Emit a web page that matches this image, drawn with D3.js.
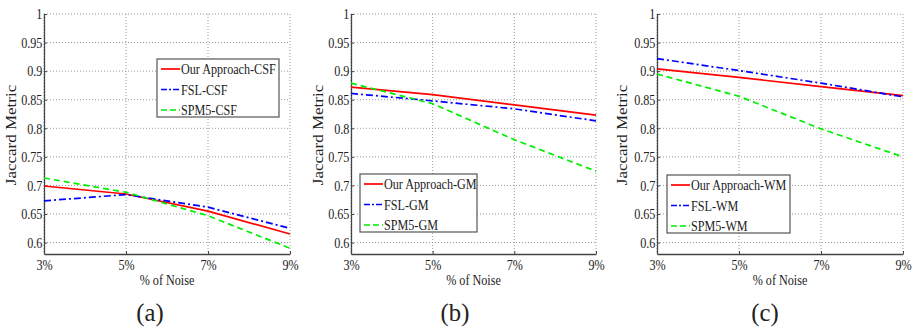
<!DOCTYPE html>
<html>
<head>
<meta charset="utf-8">
<script src="https://cdn.jsdelivr.net/npm/d3@7"></script>
<style>
  body { margin: 0; background: #fff; }
</style>
</head>
<body>
<div class="chart"></div>
<script>
// data
var noise = [3, 5, 7, 9];
var xTicks = ["3%", "5%", "7%", "9%"];
var yTicks = [0.6, 0.65, 0.7, 0.75, 0.8, 0.85, 0.9, 0.95, 1];

var ourCSF = [0.699, 0.685, 0.655, 0.615];
var fslCSF = [0.673, 0.684, 0.662, 0.625];
var spmCSF = [0.713, 0.688, 0.647, 0.590];

var ourGM = [0.872, 0.859, 0.841, 0.823];
var fslGM = [0.861, 0.848, 0.834, 0.813];
var spmGM = [0.879, 0.843, 0.780, 0.725];

var ourWM = [0.904, 0.889, 0.873, 0.857];
var fslWM = [0.922, 0.901, 0.879, 0.855];
var spmWM = [0.895, 0.856, 0.799, 0.750];

var serif = "Liberation Serif";
var squeeze = 0.81; // the source figure is a bit narrowed horizontally

var svg = d3.select(".chart")
  .append("svg")
  .attr("width", 917)
  .attr("height", 327);

var styles = [
  { color: "#ff0000", dash: null },
  { color: "#0000ff", dash: "7,3,2,3" },
  { color: "#00ee00", dash: "6,4" }
];

function label(sel, size) {
  return sel.attr("font-family", serif).attr("font-size", size).attr("fill", "#222");
}

function drawPanel(p) {
  var x = d3.scaleLinear().domain([3, 9]).range([p.left, p.right]);
  var y = d3.scaleLinear().domain([0.58, 1]).range([254, 14]);
  var g = svg.append("g");

  // grid
  g.selectAll(".gy").data(yTicks).enter().append("line")
    .attr("x1", p.left).attr("x2", p.right)
    .attr("y1", d => y(d)).attr("y2", d => y(d))
    .attr("stroke", "#999").attr("stroke-width", 1)
    .attr("stroke-dasharray", "1,2");
  g.selectAll(".gx").data(noise).enter().append("line")
    .attr("x1", d => x(d)).attr("x2", d => x(d))
    .attr("y1", y(1)).attr("y2", y(0.58))
    .attr("stroke", "#999").attr("stroke-width", 1)
    .attr("stroke-dasharray", "1,2");

  // axes
  var leftAxis = d3.axisLeft(y).tickValues(yTicks).tickFormat(d3.format("")).tickSizeInner(-3).tickSizeOuter(0).tickPadding(2);
  var bottomAxis = d3.axisBottom(x).tickValues(noise).tickFormat((d, i) => xTicks[i]).tickSizeInner(-3).tickSizeOuter(0).tickPadding(5);

  var ly = g.append("g").attr("transform", `translate(${p.left},0)`).call(leftAxis);
  var lx = g.append("g").attr("transform", `translate(0,254)`).call(bottomAxis);
  [ly, lx].forEach(function (a) {
    a.attr("font-family", serif).attr("font-size", 15);
    a.select(".domain").attr("stroke", "#444").attr("stroke-width", 1.3);
    a.selectAll(".tick line").attr("stroke", "#444");
    a.selectAll("text").attr("fill", "#222").attr("transform", `scale(${squeeze},1)`);
  });

  // lines
  var line = d3.line().x((d, i) => x(noise[i])).y(d => y(d));
  p.series.forEach(function (s, i) {
    g.append("path")
      .attr("d", line(s))
      .attr("fill", "none")
      .attr("stroke", styles[i].color)
      .attr("stroke-width", 1.7)
      .attr("stroke-dasharray", styles[i].dash);
  });

  // labels
  label(g.append("text"), 17)
    .attr("transform", `translate(${p.ylabX},135) rotate(-90) scale(1,${squeeze})`)
    .attr("text-anchor", "middle")
    .attr("dy", "0.35em")
    .text("Jaccard Metric");
  label(g.append("text"), 15)
    .attr("transform", `translate(${(p.left + p.right) / 2},285) scale(${squeeze},1)`)
    .attr("text-anchor", "middle")
    .text("% of Noise");
  label(g.append("text"), 26)
    .attr("transform", `translate(${p.capX},321) scale(0.95,1)`)
    .attr("text-anchor", "middle")
    .text(p.caption);

  // legend
  var lg = g.append("g").attr("transform", `translate(${p.legX},${p.legY})`);
  lg.append("rect")
    .attr("width", p.legW).attr("height", 58)
    .attr("fill", "#fff").attr("stroke", "#555").attr("stroke-width", 1.2);
  p.names.forEach(function (n, i) {
    var yy = 10 + i * 20.5;
    lg.append("line")
      .attr("x1", 4).attr("x2", 23).attr("y1", yy).attr("y2", yy)
      .attr("stroke", styles[i].color).attr("stroke-width", 1.7)
      .attr("stroke-dasharray", i == 1 ? "6,2,2,2" : (i == 2 ? "6,3" : null));
    label(lg.append("text"), 15)
      .attr("transform", `translate(24,${yy}) scale(${squeeze},1)`)
      .attr("dy", "0.35em")
      .text(n);
  });
}

drawPanel({
  left: 44, right: 290, ylabX: 11, capX: 150, caption: "(a)",
  series: [ourCSF, fslCSF, spmCSF],
  names: ["Our Approach-CSF", "FSL-CSF", "SPM5-CSF"],
  legX: 157, legY: 59, legW: 122
});
drawPanel({
  left: 351, right: 596, ylabX: 318, capX: 455, caption: "(b)",
  series: [ourGM, fslGM, spmGM],
  names: ["Our Approach-GM", "FSL-GM", "SPM5-GM"],
  legX: 360, legY: 174, legW: 117
});
drawPanel({
  left: 657, right: 903, ylabX: 622, capX: 765, caption: "(c)",
  series: [ourWM, fslWM, spmWM],
  names: ["Our Approach-WM", "FSL-WM", "SPM5-WM"],
  legX: 667, legY: 175, legW: 123
});
</script>
</body>
</html>
